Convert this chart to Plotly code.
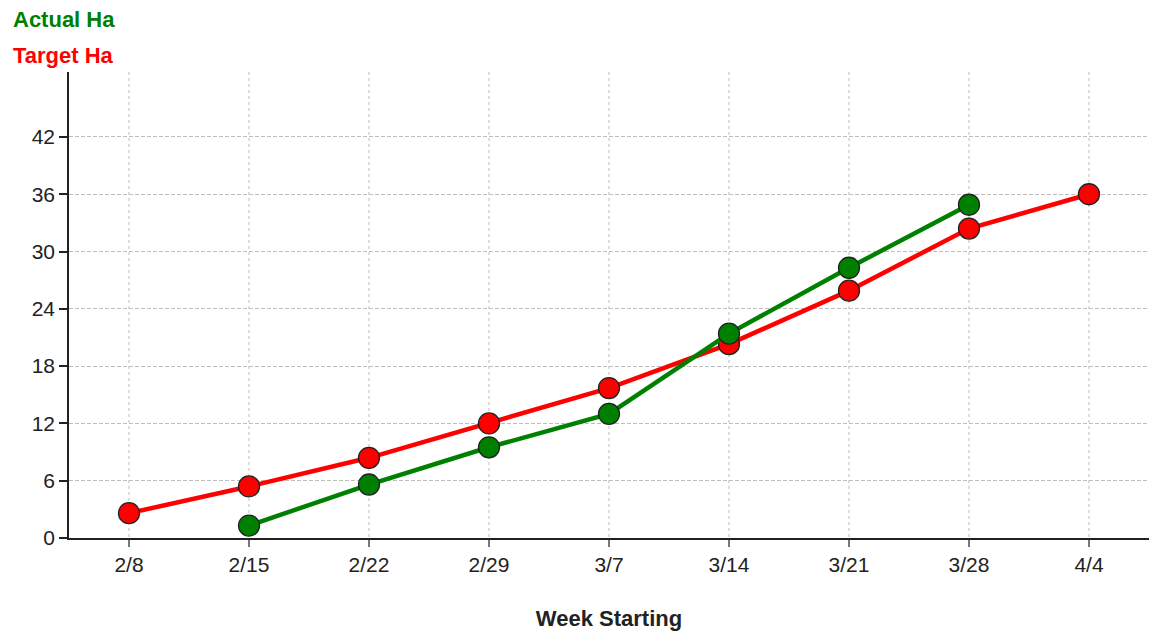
import plotly.graph_objects as go

weeks = ["2/8", "2/15", "2/22", "2/29", "3/7", "3/14", "3/21", "3/28", "4/4"]
target_ha = [2.6, 5.4, 8.4, 12.0, 15.7, 20.3, 25.9, 32.4, 36.0]
actual_weeks = ["2/15", "2/22", "2/29", "3/7", "3/14", "3/21", "3/28"]
actual_ha = [1.3, 5.6, 9.5, 13.0, 21.4, 28.3, 34.9]

GREEN = "#008000"
RED = "#ff0000"

fig = go.Figure()
fig.add_trace(go.Scatter(
    x=weeks, y=target_ha, mode="lines+markers", name="Target Ha",
    line=dict(color=RED, width=4.5),
    marker=dict(size=21, color=RED, line=dict(color="#222", width=1.3)),
))
fig.add_trace(go.Scatter(
    x=actual_weeks, y=actual_ha, mode="lines+markers", name="Actual Ha",
    line=dict(color=GREEN, width=4.5),
    marker=dict(size=21, color=GREEN, line=dict(color="#222", width=1.3)),
))

font_family = "Liberation Sans, Arial, sans-serif"
fig.update_layout(
    width=1155, height=624,
    margin=dict(l=61, r=14, t=64, b=94, autoexpand=False),
    plot_bgcolor="white", paper_bgcolor="white",
    showlegend=False,
    font=dict(family=font_family, size=21, color="#222"),
    xaxis=dict(
        type="category", categoryorder="array", categoryarray=weeks,
        range=[-0.5, 8.5],
        showgrid=True, gridcolor="#dedede", griddash="3px,3px", gridwidth=1.5,
        showline=True, linecolor="#222", linewidth=1.5,
        ticks="outside", ticklen=7, tickcolor="#777", tickwidth=2,
        tickfont=dict(size=21, color="#222"),
        title=dict(text="<b>Week Starting</b>", font=dict(size=22, color="#222"), standoff=36),
        zeroline=False, fixedrange=True,
    ),
    yaxis=dict(
        range=[0, 48.8],
        tickvals=[0, 6, 12, 18, 24, 30, 36, 42],
        showgrid=True, gridcolor="#bdbdbd", griddash="4px,2px", gridwidth=1,
        showline=True, linecolor="#222", linewidth=1.5,
        ticks="outside", ticklen=8, tickcolor="#222", tickwidth=1.5,
        tickfont=dict(size=21, color="#222"),
        zeroline=False, fixedrange=True,
    ),
    annotations=[
        dict(text="<b>Actual Ha</b>", xref="paper", yref="paper", x=-0.054, y=(538 - 20) / 466,
             xanchor="left", yanchor="middle", showarrow=False,
             font=dict(size=22, color=GREEN, family=font_family)),
        dict(text="<b>Target Ha</b>", xref="paper", yref="paper", x=-0.054, y=(538 - 55) / 466,
             xanchor="left", yanchor="middle", showarrow=False,
             font=dict(size=22, color=RED, family=font_family)),
    ],
)

fig.write_html("out.html")
